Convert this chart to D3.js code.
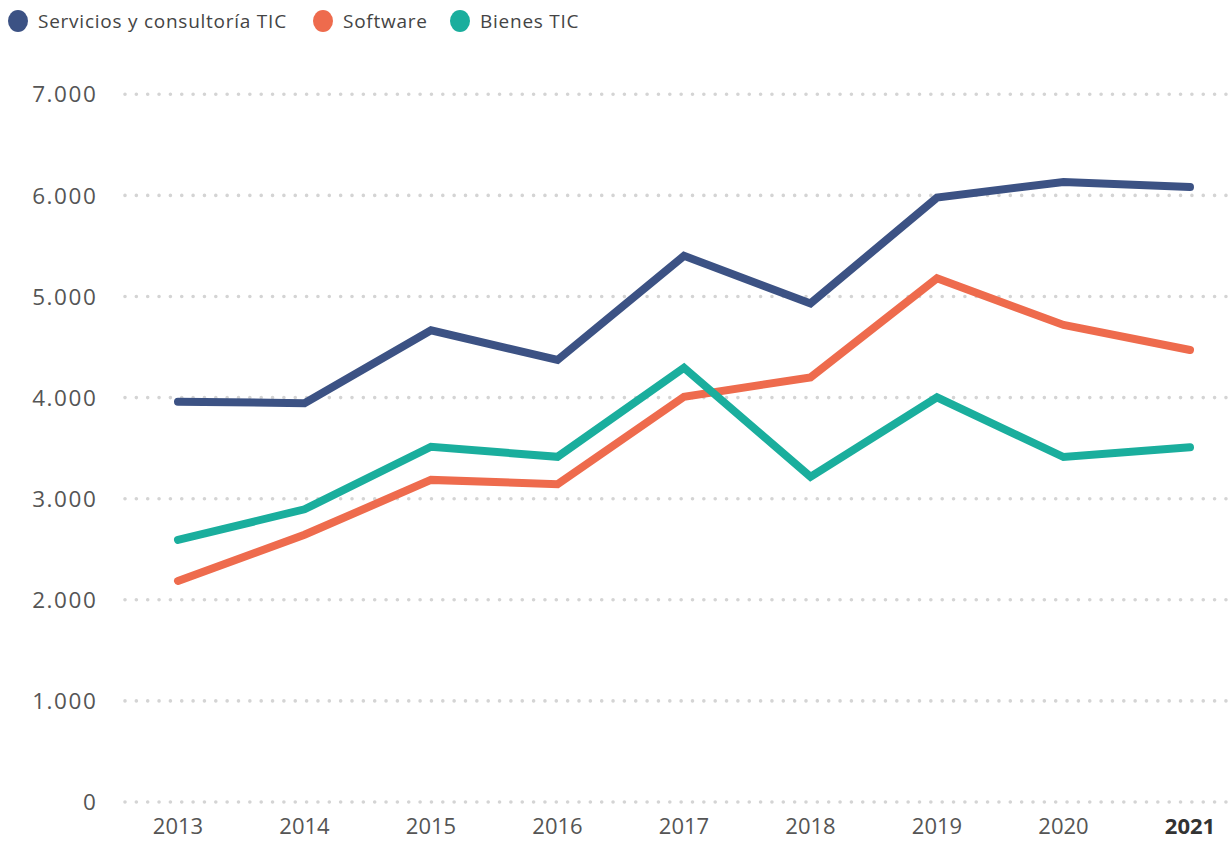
<!DOCTYPE html>
<html>
<head>
<meta charset="utf-8">
<script src="https://cdn.jsdelivr.net/npm/d3@7"></script>
<style>
  html, body { margin: 0; padding: 0; background: #fff; }
  svg { display: block; font-family: "Open Sans", "Lato", sans-serif; }
</style>
</head>
<body>
<svg id="chart" width="1232" height="841"></svg>
<script>
const years = ["2013","2014","2015","2016","2017","2018","2019","2020","2021"];
const servicios = [3960, 3945, 4665, 4372, 5402, 4932, 5978, 6133, 6082];
const software  = [2186, 2643, 3186, 3143, 4008, 4200, 5180, 4718, 4471];
const bienes    = [2593, 2895, 3514, 3414, 4295, 3216, 4003, 3412, 3509];
const yTicks = [0, 1000, 2000, 3000, 4000, 5000, 6000, 7000];
const seriesNames = ["Servicios y consultoría TIC", "Software", "Bienes TIC"];
const seriesColors = ["#3c5284", "#ee6b4d", "#1aae9d"];
const seriesValues = [servicios, software, bienes];

const svg = d3.select("#chart");
const x = d3.scalePoint().domain(years).range([178, 1190]);
const y = d3.scaleLinear().domain([0, 7000]).range([802, 94.3]);
const fmt = v => v === 0 ? "0" : d3.format(",")(v).replace(/,/g, ".");

// grid
svg.append("g").selectAll("line").data(yTicks).join("line")
  .attr("x1", 125).attr("x2", 1232)
  .attr("y1", d => y(d)).attr("y2", d => y(d))
  .attr("stroke", "#d4d4d4").attr("stroke-width", 3.6)
  .attr("stroke-linecap", "round").attr("stroke-dasharray", "0,11.35");

// y labels
svg.append("g").selectAll("text").data(yTicks).join("text")
  .attr("x", 97.5).attr("y", d => y(d)).attr("dy", "0.36em")
  .attr("text-anchor", "end").attr("fill", "#555").attr("font-size", 22.5)
  .attr("letter-spacing", 1.6)
  .text(fmt);

// x labels
svg.append("g").selectAll("text").data(years).join("text")
  .attr("x", d => x(d)).attr("y", 834)
  .attr("text-anchor", "middle").attr("fill", d => d === "2021" ? "#333" : "#555")
  .attr("font-size", 22).attr("font-weight", d => d === "2021" ? 700 : 400)
  .text(d => d);

// lines
const line = d3.line().x((d, i) => x(years[i])).y(d => y(d));
svg.append("g").selectAll("path").data(seriesValues).join("path")
  .attr("d", d => line(d)).attr("fill", "none")
  .attr("stroke", (d, i) => seriesColors[i]).attr("stroke-width", 8)
  .attr("stroke-linecap", "round").attr("stroke-linejoin", "miter");

// legend
const legendX = [18, 323, 460];
const lg = svg.append("g");
seriesNames.forEach((n, i) => {
  lg.append("ellipse").attr("cx", legendX[i]).attr("cy", 21).attr("rx", 10).attr("ry", 11)
    .attr("fill", seriesColors[i]);
  lg.append("text").attr("x", legendX[i] + 20).attr("y", 21).attr("dy", "0.35em")
    .attr("font-size", 19).attr("letter-spacing", 0.75).attr("fill", "#444").text(n);
});
</script>
</body>
</html>
